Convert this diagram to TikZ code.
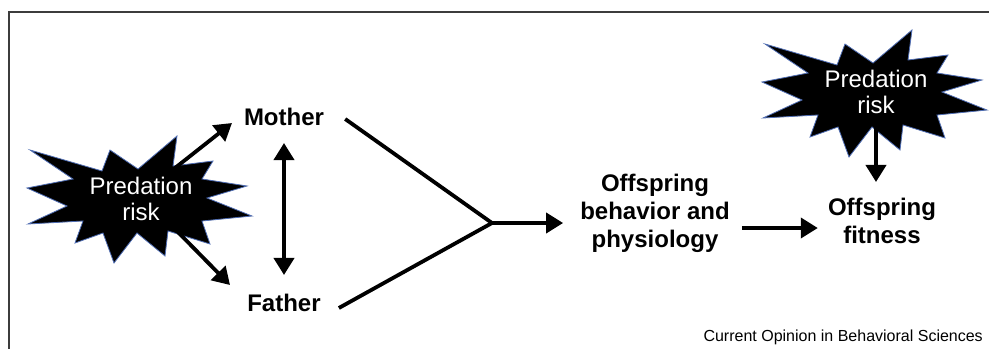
\documentclass[tikz,border=0pt]{standalone}
\usepackage{fontspec}
\setmainfont{Liberation Sans}
\usetikzlibrary{arrows.meta}

\definecolor{burstblue}{RGB}{80,110,180}
\definecolor{framegray}{RGB}{60,60,60}

% star shaped outline round a named centre
\newcommand{\predburst}[1]{%
  \filldraw[burst,shift={(#1)}] (-110,-51) -- (-38,-30) -- (-30,-51) -- (-2,-32) -- (37,-65) -- (33,-35)
    -- (73,-40) -- (62,-22) -- (107,-15) -- (67,-3) -- (112,15) -- (62,20) -- (70,43) -- (28,30)
    -- (25,55) -- (-3,32) -- (-26,62) -- (-37,32) -- (-65,42) -- (-57,20) -- (-112,23) -- (-73,5)
    -- (-113,-13) -- (-67,-22) -- cycle;}

\begin{document}
\begin{tikzpicture}[x=1pt,y=-1pt,
    burst/.style={fill=black, draw=burstblue, line width=0.8pt, line join=miter},
    label/.style={font=\fontsize{24}{28}\selectfont\bfseries, align=center, inner sep=2pt},
    risktext/.style={text=white, font=\fontsize{24}{26}\selectfont, align=center, inner sep=0pt},
    link/.style={line width=3.8pt},
    arr/.style={link, -{Triangle[length=17pt,width=20pt]}},
    dblarr/.style={link, {Triangle[length=17pt,width=20pt]}-{Triangle[length=17pt,width=20pt]}}]
        \useasboundingbox (0,0) rectangle (989,349);
        \draw[framegray, line width=1.5pt] (989,12) -- (9,12) -- (9,349);
        % Predation risk bursts
        \coordinate (b1) at (140,201);
        \coordinate (b2) at (875,95);
        \predburst{b1}
        \predburst{b2}
        \node[risktext] (risk1) at (141,199) {Predation\\risk};
        \node[risktext] (risk2) at (876,92) {Predation\\risk};
        \node[label] (mother) at (284,117) {Mother};
        \node[label] (father) at (284,303) {Father};
        \node[label] (behav) at (655,213) {Offspring\\behavior and\\physiology};
        \node[label] (fitness) at (882,221) {Offspring\\fitness};
        \node[font=\fontsize{16}{18}\selectfont, anchor=base east, inner sep=0pt] (credit) at (983,341) {Current Opinion in Behavioral Sciences};
        \coordinate (join) at (492,223);
        \coordinate (mstart) at (175,168);
        \coordinate (mtip) at (232,123);
        \coordinate (fstart) at (173,227);
        \coordinate (ftip) at (230,285);
        % Add the connectors
        \draw[arr] (mstart) -- (mtip);
        \draw[arr] (fstart) -- (ftip);
        \draw[dblarr, shorten <=15pt, shorten >=17pt] (mother) -- (father);
        \draw[link] ([xshift=19pt,yshift=-2pt]mother.east) -- (join);
        \draw[link] ([xshift=16pt,yshift=-5pt]father.east) -- (join);
        \draw[arr, shorten >=15pt] (join) -- (join -| behav.west);
        \draw[arr] ([xshift=10pt,yshift=-15pt]behav.east) -- ([xshift=-8pt,yshift=-7pt]fitness.west);
        \draw[arr, shorten <=8pt, shorten >=14pt] (risk2.south) -- (risk2.south |- fitness.north);
    \end{tikzpicture}
\end{document}
